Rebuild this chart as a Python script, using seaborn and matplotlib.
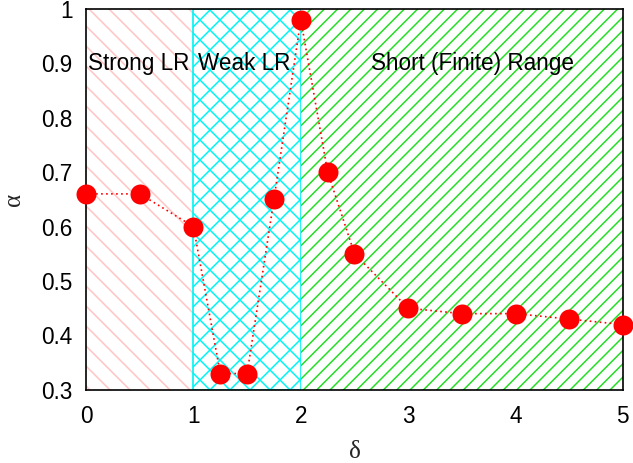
import matplotlib
matplotlib.use("Agg")
import matplotlib.pyplot as plt
import seaborn as sns
import pandas as pd

# Exponent alpha versus decay parameter delta
delta = [0.0, 0.5, 1.0, 1.25, 1.5, 1.75, 2.0, 2.25, 2.5, 3.0, 3.5, 4.0, 4.5, 5.0]
alpha = [0.66, 0.66, 0.60, 0.33, 0.33, 0.65, 0.98, 0.70, 0.55, 0.45, 0.44, 0.44, 0.43, 0.42]

# Interaction regimes: (start, end, label, label x-position)
region_bounds = [(0, 1), (1, 2), (2, 5)]
region_labels = ["Strong LR", "Weak LR", "Short (Finite) Range"]
label_x = [0.02, 1.04, 2.65]

x_ticks = [0, 1, 2, 3, 4, 5]
y_ticks = [0.3, 0.4, 0.5, 0.6, 0.7, 0.8, 0.9, 1.0]
y_tick_labels = ["0.3", "0.4", "0.5", "0.6", "0.7", "0.8", "0.9", "1"]

df = pd.DataFrame({"delta": delta, "alpha": alpha})

sns.set_theme(style="white")
plt.rcParams["font.family"] = ["Liberation Sans", "DejaVu Sans"]
plt.rcParams["hatch.linewidth"] = 0.9

DPI = 120
fig = plt.figure(figsize=(633 / DPI, 463 / DPI), dpi=DPI)
ax = fig.add_axes([0.136, 0.158, 0.848, 0.823])

styles = [
    dict(edgecolor="#ffc4c4", hatch="\\\\", lw=0),
    dict(edgecolor="#00f4f4", hatch="xx", lw=1.0),
    dict(edgecolor="#22dd22", hatch="///", lw=0),
]
for (a, b), st in zip(region_bounds, styles):
    ax.axvspan(a, b, facecolor="white", zorder=0, **st)

sns.lineplot(data=df, x="delta", y="alpha", ax=ax, color="red",
             linestyle=(0, (1, 2)), lw=1.0, marker="o", markersize=12,
             markeredgewidth=0, clip_on=False, zorder=5)

for lab, lx in zip(region_labels, label_x):
    ax.text(lx, 0.9, lab, fontsize=13.5, ha="left", va="center",
            color="black", zorder=6)

ax.set_xlim(0, 5)
ax.set_ylim(0.3, 1.0)
ax.set_xticks(x_ticks)
ax.set_xticklabels([str(t) for t in x_ticks])
ax.set_yticks(y_ticks)
ax.set_yticklabels(y_tick_labels)
ax.tick_params(axis="both", length=0, labelsize=13.5, colors="black")
ax.tick_params(axis="x", pad=9)
ax.tick_params(axis="y", pad=8)

ax.set_xlabel("δ", fontsize=15, family=["Liberation Serif", "DejaVu Serif"], labelpad=8)
ax.set_ylabel("α", fontsize=15, family=["Liberation Serif", "DejaVu Serif"], labelpad=10)

for s in ax.spines.values():
    s.set_color("black")
    s.set_linewidth(1.0)
    s.set_zorder(4)

fig.savefig("out.png", dpi=DPI)
